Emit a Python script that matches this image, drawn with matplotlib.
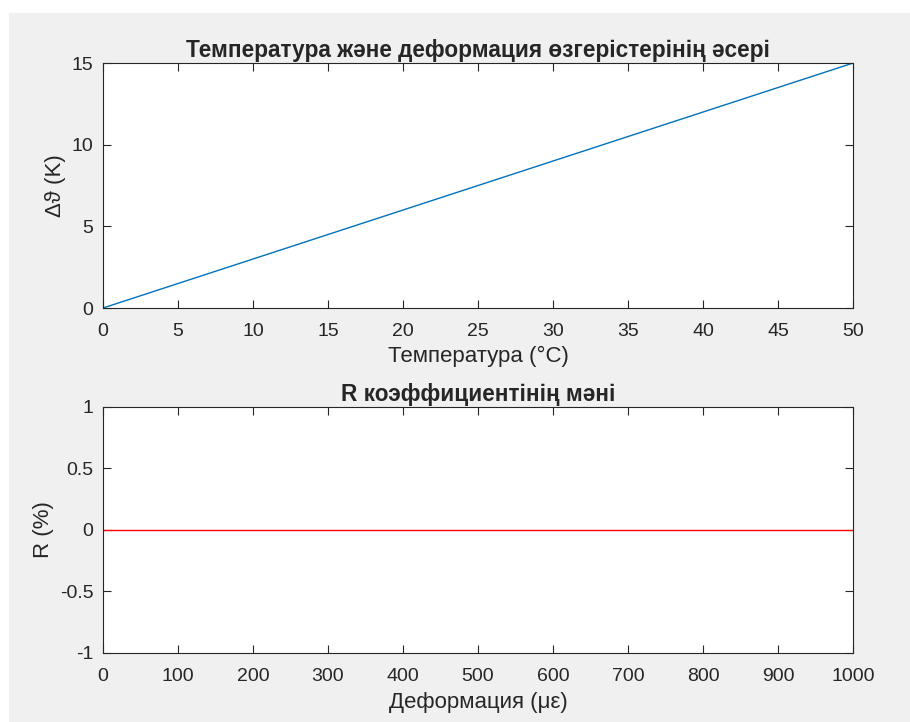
import matplotlib.pyplot as plt
from matplotlib.patches import Rectangle

# top panel: temperature vs temperature change
temperature = [0, 10, 20, 30, 40, 50]
delta_theta = [0, 3, 6, 9, 12, 15]

# bottom panel: strain vs R coefficient
strain = [0, 200, 400, 600, 800, 1000]
r_coef = [0, 0, 0, 0, 0, 0]

plt.rcParams['font.family'] = ['Liberation Sans', 'DejaVu Sans']
plt.rcParams['text.color'] = '#262626'
plt.rcParams['axes.labelcolor'] = '#262626'

fig = plt.figure(figsize=(9.1, 7.22), dpi=100, facecolor='white')
fig.patches.append(Rectangle((9 / 910, 0), 1, 1 - 13 / 722, transform=fig.transFigure,
                             facecolor='#f0f0f0', edgecolor='none', zorder=-10))

ax1 = fig.add_axes([0.1132, 0.5734, 0.8242, 0.3393])
ax2 = fig.add_axes([0.1132, 0.0956, 0.8242, 0.3407])

ax1.plot(temperature, delta_theta, color='#0072BD', lw=1.0)
ax1.set_xlim(0, 50)
ax1.set_ylim(0, 15)
ax1.set_xticks(range(0, 51, 5))
ax1.set_yticks([0, 5, 10, 15])
ax1.set_title('Температура және деформация өзгерістерінің әсері', fontsize=16.3, fontweight='bold', pad=4)
ax1.set_xlabel('Температура (°C)', fontsize=16, labelpad=4)
ax1.set_ylabel('Δϑ (K)', fontsize=16, labelpad=4)

ax2.plot(strain, r_coef, color='red', lw=1.0)
ax2.set_xlim(0, 1000)
ax2.set_ylim(-1, 1)
ax2.set_xticks(range(0, 1001, 100))
ax2.set_yticks([-1, -0.5, 0, 0.5, 1])
ax2.set_yticklabels(['-1', '-0.5', '0', '0.5', '1'])
ax2.set_title('R коэффициентінің мәні', fontsize=16.3, fontweight='bold', pad=4)
ax2.set_xlabel('Деформация (με)', fontsize=16, labelpad=5)
ax2.set_ylabel('R (%)', fontsize=16, labelpad=4)

for ax in (ax1, ax2):
    ax.set_facecolor('white')
    for s in ax.spines.values():
        s.set_color('#262626')
        s.set_linewidth(0.8)
    ax.tick_params(direction='in', length=5.5, width=0.8, top=True, right=True,
                   labelsize=14, colors='#262626', pad=7)
    ax.tick_params(axis='x', pad=11)

fig.savefig('out.png', dpi=100, facecolor=fig.get_facecolor())
